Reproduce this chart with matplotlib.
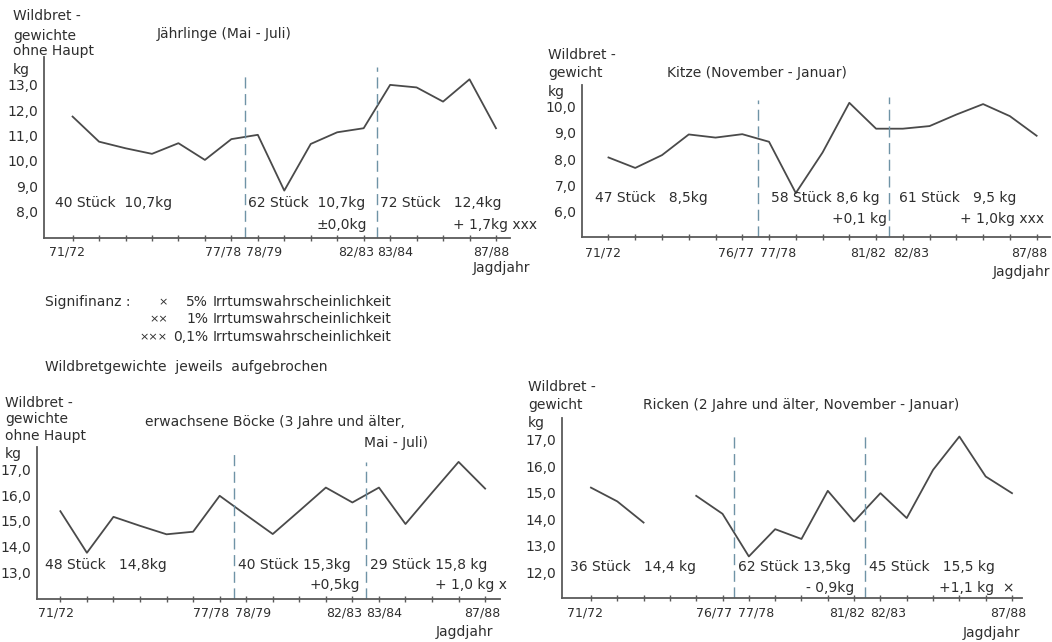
import numpy as np
import matplotlib.pyplot as plt

W, H = 1052, 642
plt.rcParams['font.family'] = ['DejaVu Sans']

# Jagdjahre 71/72 ... 87/88 -> index 0..16
years = np.arange(17)

jaehrlinge = [11.75, 10.76, 10.5, 10.28, 10.7, 10.04, 10.86, 11.03, 8.83,
              10.67, 11.13, 11.29, 13.0, 12.9, 12.34, 13.22, 11.29]
kitze = [8.06, 7.66, 8.15, 8.94, 8.82, 8.95, 8.66, 6.7, 8.25,
         10.15, 9.16, 9.16, 9.26, 9.7, 10.1, 9.64, 8.89]
boecke = [15.38, 13.76, 15.16, 14.81, 14.48, 14.58, 15.98, 15.23, 14.49,
          15.39, 16.3, 15.72, 16.3, 14.88, 16.1, 17.3, 16.26]
ricken = [15.2, 14.68, 13.88, np.nan, 14.89, 14.21, 12.6, 13.63, 13.26,
          15.08, 13.92, 14.99, 14.05, 15.87, 17.13, 15.62, 14.99]

ticks_a = [0, 6, 7, 11, 12, 16]
labels_a = ['71/72', '77/78', '78/79', '82/83', '83/84', '87/88']
ticks_b = [0, 5, 6, 10, 11, 16]
labels_b = ['71/72', '76/77', '77/78', '81/82', '82/83', '87/88']

LINE = '#4a4a4a'
AXC = '#5a5a5a'
TXT = '#2e2e2e'
DASH = '#6f93a6'
FS = 10
TFS = 9

fig = plt.figure(figsize=(W / 100, H / 100), dpi=100)


def px(x, y):
    return x / W, 1 - y / H


def ftext(x, y, s, ha='left', va='center', size=FS):
    fig.text(*px(x, y), s, ha=ha, va=va, fontsize=size, color=TXT)


def panel(box, xlim, ylim, values, yt, ticks, labels, offs, dashes, lab_dy):
    l, t, r, b = box
    ax = fig.add_axes([l / W, 1 - b / H, (r - l) / W, (b - t) / H])
    ax.plot(years, values, color=LINE, lw=1.3)
    for xd, ytop in dashes:
        ax.vlines(xd, ylim[0], ytop, colors=DASH, lw=1.0,
                  linestyles=(0, (8, 4)))
    ax.set_xlim(*xlim)
    ax.set_ylim(*ylim)
    for s in ['top', 'right']:
        ax.spines[s].set_visible(False)
    for s in ['left', 'bottom']:
        ax.spines[s].set_color(AXC)
        ax.spines[s].set_linewidth(1.3)
    ax.set_xticks(years)
    ax.set_xticklabels([])
    ax.tick_params(axis='x', direction='inout', length=5, color=AXC, width=1)
    ax.set_yticks(yt)
    ax.set_yticklabels([('%.1f' % v).replace('.', ',') for v in yt],
                       fontsize=FS, color=TXT)
    ax.tick_params(axis='y', length=0, pad=4)
    for tk, lb, dx in zip(ticks, labels, offs):
        ax.annotate(lb, xy=(tk, ylim[0]), xytext=(dx * 0.72, -lab_dy * 0.72),
                    textcoords='offset points', ha='center', va='center',
                    fontsize=TFS, color=TXT, annotation_clip=False)
    return ax


# Jährlinge
panel((44, 57, 510, 238), (-1.08, 16.53), (6.96, 14.1), jaehrlinge,
      [8, 9, 10, 11, 12, 13], ticks_a, labels_a, [-6, -8, 6, -8, 5, -5],
      [(6.5, 13.47), (11.5, 13.7)], 14)
# Kitze
panel((582, 85, 1050, 237), (-0.99, 16.5), (5.02, 10.83), kitze,
      [6, 7, 8, 9, 10], ticks_b, labels_b, [-5, -6, 9, -8, 8, -7],
      [(5.6, 10.26), (10.5, 10.38)], 16)
# Böcke
panel((37, 447, 500, 599), (-0.88, 16.56), (11.96, 17.88), boecke,
      [13, 14, 15, 16, 17], ticks_a, labels_a, [-4, -9, 7, -8, 5, -3],
      [(6.55, 17.68), (11.5, 17.3)], 14)
# Ricken
panel((562, 418, 1022, 598), (-1.1, 16.38), (11.03, 17.83), ricken,
      [12, 13, 14, 15, 16, 17], ticks_b, labels_b, [-6, -8, 7, -7, 8, -4],
      [(5.45, 17.25), (10.4, 17.31)], 15)

# --- Texte oben links
for y, s in [(16, 'Wildbret -'), (36, 'gewichte'), (51, 'ohne Haupt'), (70, 'kg')]:
    ftext(13, y, s)
ftext(157, 34, 'Jährlinge (Mai - Juli)')
ftext(55, 203, '40 Stück  10,7kg')
ftext(248, 203, '62 Stück  10,7kg')
ftext(367, 225, '±0,0kg', ha='right')
ftext(380, 203, '72 Stück   12,4kg')
ftext(453, 225, '+ 1,7kg xxx')
ftext(530, 268, 'Jagdjahr', ha='right')

# --- Texte oben rechts
for y, s in [(55, 'Wildbret -'), (73, 'gewicht'), (92, 'kg')]:
    ftext(548, y, s)
ftext(667, 73, 'Kitze (November - Januar)')
ftext(595, 198, '47 Stück   8,5kg')
ftext(771, 198, '58 Stück 8,6 kg')
ftext(887, 219, '+0,1 kg', ha='right')
ftext(899, 198, '61 Stück   9,5 kg')
ftext(960, 219, '+ 1,0kg xxx')
ftext(1050, 272, 'Jagdjahr', ha='right')

# --- Signifikanz
ftext(45, 302, 'Signifinanz :')
for y, m, p in [(302, '×', '5%'), (319, '××', '1%'), (337, '×××', '0,1%')]:
    ftext(168, y, m, ha='right', size=8)
    ftext(208, y, p, ha='right')
    ftext(213, y, 'Irrtumswahrscheinlichkeit')
ftext(45, 367, 'Wildbretgewichte  jeweils  aufgebrochen')

# --- Texte unten links
for y, s in [(403, 'Wildbret -'), (419, 'gewichte'), (436, 'ohne Haupt'), (454, 'kg')]:
    ftext(5, y, s)
ftext(145, 422, 'erwachsene Böcke (3 Jahre und älter,')
ftext(428, 443, 'Mai - Juli)', ha='right')
ftext(45, 565, '48 Stück   14,8kg')
ftext(238, 565, '40 Stück 15,3kg')
ftext(360, 585, '+0,5kg', ha='right')
ftext(370, 565, '29 Stück 15,8 kg')
ftext(507, 585, '+ 1,0 kg x', ha='right')
ftext(493, 632, 'Jagdjahr', ha='right')

# --- Texte unten rechts
for y, s in [(387, 'Wildbret -'), (405, 'gewicht'), (423, 'kg')]:
    ftext(528, y, s)
ftext(643, 405, 'Ricken (2 Jahre und älter, November - Januar)')
ftext(570, 567, '36 Stück   14,4 kg')
ftext(738, 567, '62 Stück 13,5kg')
ftext(854, 588, '- 0,9kg', ha='right')
ftext(869, 567, '45 Stück   15,5 kg')
ftext(939, 588, '+1,1 kg  ×')
ftext(1020, 633, 'Jagdjahr', ha='right')

fig.savefig('out.png', dpi=100)
